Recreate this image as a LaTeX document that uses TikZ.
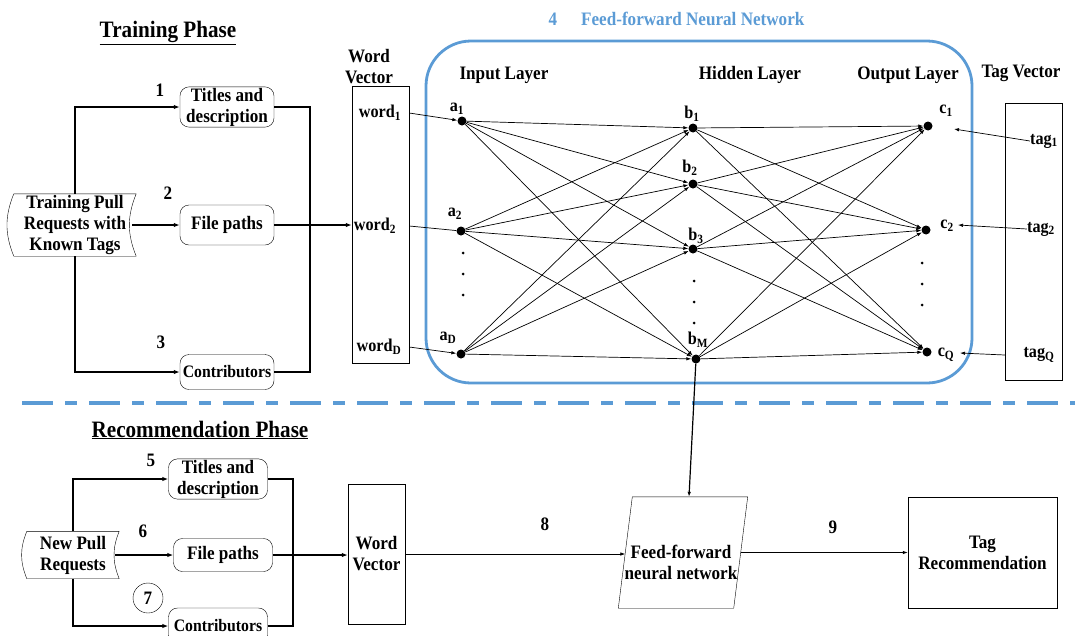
\documentclass[tikz,border=0pt]{standalone}
\usepackage{fontspec}
\setmainfont{Liberation Serif}[FakeStretch=0.9]
\usetikzlibrary{arrows.meta, positioning, calc}
\definecolor{nnblue}{RGB}{91,155,213}
\tikzset{> = {Latex[length=6pt, width=4.5pt]}}

\begin{document}
\begin{tikzpicture}[x=1pt, y=-1pt, font=\fontsize{19}{21}\selectfont\bfseries,
    box/.style = {draw, rounded corners=9pt, align=center, inner sep=1pt},
    plainbox/.style = {draw, align=center, inner sep=1pt},
    neuron/.style = {circle, fill, inner sep=0pt, minimum size=9pt},
    lbl/.style = {font=\fontsize{18}{20}\selectfont\bfseries, inner sep=0pt},
    flow/.style = {line width=1.7pt},
    link/.style = {line width=0.7pt, -{Latex[length=5pt, width=3.5pt]}},
    phase/.style = {font=\fontsize{23.5}{25}\selectfont\bfseries}]

  \path[use as bounding box] (0,0) rectangle (1075,635);
  \clip (0,0) rectangle (1075,635);

  % ---- training phase ----
  \node[phase] (trainT) at (168,33) {\underline{Training Phase}};
  \node[align=center, minimum width=122pt, minimum height=62pt, inner sep=0pt] (train) at (75,225) {Training Pull\\Requests with\\Known Tags};
  \draw (train.north west) to[bend right=22] (train.south west) -- (train.south east) to[bend left=22] (train.north east) -- cycle;

  \node[box, minimum width=94pt, minimum height=37pt] (title1) at (227,107) {Titles and\\description};
  \node[box, minimum width=94pt, minimum height=40pt] (path1) at (227,225) {File paths};
  \node[box, minimum width=94pt, minimum height=35pt, font=\fontsize{17.5}{20}\selectfont\bfseries] (contr1) at (227,372) {Contributors};

  \node (n1) at (160,90) {1};
  \node (n2) at (168,193) {2};
  \node (n3) at (161,342) {3};

  \node[align=center] (wvT) at (369,67) {Word\\Vector};
  \node[draw, minimum width=57pt, minimum height=277pt] (wv1) at (380.5,224.5) {};
  \node[lbl] (w1) at (380,113) {word\textsubscript{1}};
  \node[lbl] (w2) at (375,226) {word\textsubscript{2}};
  \node[lbl] (wD) at (379,347) {word\textsubscript{D}};

  \draw[flow, ->] (train.north) |- (title1);
  \draw[flow, ->] ([xshift=-4pt]train.east) -- (path1);
  \draw[flow, ->] (train.south) |- (contr1);
  \coordinate (join1) at (310,225);
  \draw[flow] (title1.east) -| (join1);
  \draw[flow] (contr1.east) -| (join1);
  \draw[flow, ->] (path1.east) -- (path1.east -| wv1.west);

  % ---- feed-forward network ----
  \node[text=nnblue] (nnNum) at (553,19) {4};
  \node[text=nnblue, anchor=west, inner sep=0pt] (nnT) at (581,19) {Feed-forward Neural Network};
  \node[draw=nnblue, line width=2.8pt, rounded corners=45pt, minimum width=546pt, minimum height=342pt] (nnbox) at (699,212) {};

  \node (inT) at (504,75) {Input Layer};
  \node (hidT) at (750,75) {Hidden Layer};
  \node (outT) at (908,75) {Output Layer};
  \node (tagT) at (1021,73) {Tag Vector};

  \node[neuron] (a1) at (462,121) {};
  \node[neuron] (a2) at (461,231) {};
  \node[neuron] (aD) at (461,354) {};
  \node[neuron] (b1) at (693,128) {};
  \node[neuron] (b2) at (693,184) {};
  \node[neuron] (b3) at (693,249) {};
  \node[neuron] (bM) at (696,359) {};
  \node[neuron] (c1) at (928,126) {};
  \node[neuron] (c2) at (926,230) {};
  \node[neuron] (cQ) at (927,352) {};

  \node[lbl] (la1) at (457,109) {a\textsubscript{1}};
  \node[lbl] (la2) at (455,214) {a\textsubscript{2}};
  \node[lbl] (laD) at (448,338) {a\textsubscript{D}};
  \node[lbl] (lb1) at (692,114) {b\textsubscript{1}};
  \node[lbl] (lb2) at (690,168) {b\textsubscript{2}};
  \node[lbl] (lb3) at (696,236) {b\textsubscript{3}};
  \node[lbl] (lbM) at (698,340) {b\textsubscript{M}};
  \node[lbl] (lc1) at (946,111) {c\textsubscript{1}};
  \node[lbl] (lc2) at (947,226) {c\textsubscript{2}};
  \node[lbl] (lcQ) at (946,355) {c\textsubscript{Q}};

  \foreach \y in {253,274,295} \fill (463,\y) circle (1.5pt);
  \foreach \y in {281,302,323} \fill (694,\y) circle (1.5pt);
  \foreach \y in {263,284,305} \fill (922,\y) circle (1.5pt);

  \foreach \i in {a1,a2,aD}
    \foreach \j in {b1,b2,b3,bM}
      \draw[link] (\i) -- (\j);
  \foreach \i in {b1,b2,b3,bM}
    \foreach \j in {c1,c2,cQ}
      \draw[link] (\i) -- (\j);

  \draw[link] (wv1.east |- w1) -- (a1);
  \draw[line width=0.7pt] (wv1.east |- w2) -- (a2);
  \draw[link] (wv1.east |- wD) -- (aD);

  % tag vector
  \node[draw, minimum width=57pt, minimum height=277pt] (tv) at (1033.5,241.5) {};
  \node[lbl] (t1) at (1044,141) {tag\textsubscript{1}};
  \node[lbl] (t2) at (1041,229) {tag\textsubscript{2}};
  \node[lbl] (tQ) at (1039,355) {tag\textsubscript{Q}};
  \draw[link] (t1.west) -- ($(c1)+(26,3)$);
  \draw[link] (t2.west) -- ($(c2)+(32,-5)$);
  \draw[link] (tv.west |- tQ) -- ($(cQ)+(33,1)$);

  \draw[nnblue, line width=4pt, dash pattern=on 31pt off 12pt on 12pt off 12pt] (22,403) -- (1075,403);

  % ---- recommendation phase ----
  \node[phase] (recT) at (200,430) {\underline{Recommendation Phase}};
  \node[align=center, minimum width=92pt, minimum height=47pt, inner sep=0pt] (newpr) at (73,555) {New Pull\\Requests};
  \draw (newpr.north west) to[bend right=22] (newpr.south west) -- (newpr.south east) to[bend left=22] (newpr.north east) -- cycle;

  \node[box, minimum width=99pt, minimum height=39pt] (title2) at (218,479) {Titles and\\description};
  \node[box, minimum width=99pt, minimum height=33pt] (path2) at (223,555) {File paths};
  \node[box, minimum width=99pt, minimum height=36pt, font=\fontsize{17.5}{20}\selectfont\bfseries] (contr2) at (218,626) {Contributors};

  \node (n5) at (151,460) {5};
  \node (n6) at (143,531) {6};
  \node[draw, circle, minimum size=30pt, inner sep=0pt] (n7) at (148,598) {7};

  \node[plainbox, minimum width=57pt, minimum height=140pt] (wv2) at (376.5,554) {Word\\Vector};

  \draw[flow, ->] (newpr.north) |- (title2);
  \draw[flow, ->] ([xshift=-4pt]newpr.east) -- (path2);
  \draw[flow, ->] (newpr.south) |- (contr2);
  \coordinate (join2) at (293,555);
  \draw[flow] (title2.east) -| (join2);
  \draw[flow] (contr2.east) -| (join2);
  \draw[flow, ->] (path2.east) -- (path2.east -| wv2.west);

  \node[minimum width=115pt, minimum height=111pt, inner sep=0pt] (ff) at (683,552.5) {};
  \draw ([xshift=7pt]ff.north west) -- ([xshift=7pt]ff.north east) -- ([xshift=-7pt]ff.south east) -- ([xshift=-7pt]ff.south west) -- cycle;
  \node[align=center] (ffT) at (681,562) {Feed-forward\\neural network};

  \node[plainbox, minimum width=149pt, minimum height=111pt] (rec) at (982.5,552.5) {Tag\\Recommendation};

  \node (n8) at (545,524) {8};
  \node (n9) at (833,527) {9};

  \draw[link] (wv2.east) -- (wv2.east -| ff.west);
  \draw[link] (ff.east) -- (rec.west);
  \draw[link, line width=1.2pt] (bM) -- ([xshift=6pt]ff.north);
\end{tikzpicture}
\end{document}
